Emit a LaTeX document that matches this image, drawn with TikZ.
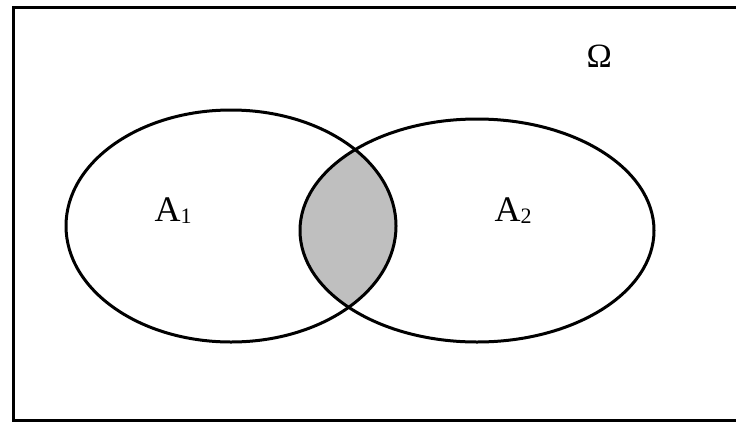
\documentclass[tikz,border=0pt]{standalone}
\usepackage{fontspec}
\setmainfont{Liberation Serif}
\definecolor{venngray}{RGB}{191,191,191}
\newcommand{\subdigit}[1]{\raisebox{-2.5pt}{\fontsize{22}{24}\selectfont #1}}
\begin{document}
\begin{tikzpicture}[x=1pt,y=-1pt,line width=3pt,
  setline/.style={draw=black,line width=3pt},
  lbl/.style={inner sep=0pt,anchor=base west,font=\fontsize{36}{40}\selectfont}]
\useasboundingbox (0,0) rectangle (736,421);
\fill[white] (0,0) rectangle (736,421);
\draw[setline] (13,7.5) rectangle (760,420);
\begin{scope}
  \clip (231,226) ellipse [x radius=165pt, y radius=116pt];
  \fill[venngray] (477,230.5) ellipse [x radius=177pt, y radius=111.5pt];
\end{scope}
\draw[setline] (231,226) ellipse [x radius=165pt, y radius=116pt];
\draw[setline] (477,230.5) ellipse [x radius=177pt, y radius=111.5pt];
\node[lbl] (a1) at (153,221) {A\subdigit{1}};
\node[lbl] (a2) at (493,221) {A\subdigit{2}};
\node[lbl,font=\fontsize{34}{38}\selectfont] (omega) at (585,67.5) {Ω};
\end{tikzpicture}
\end{document}
